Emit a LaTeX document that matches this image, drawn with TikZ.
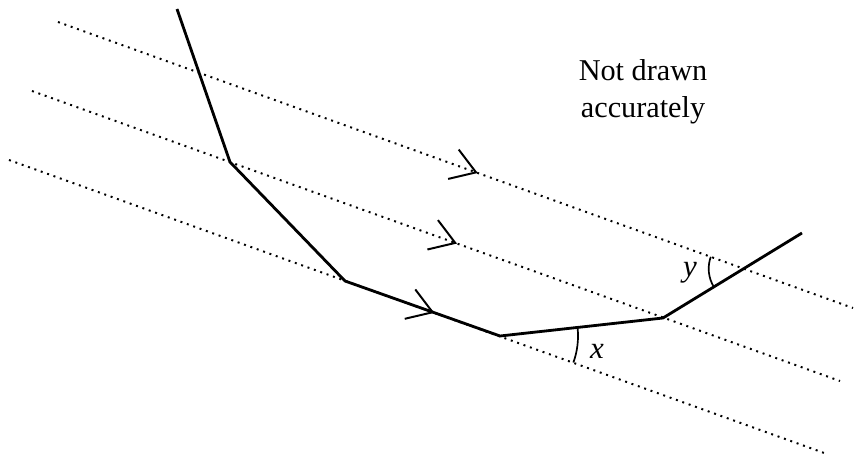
\documentclass[tikz,border=0pt]{standalone}
\usepackage{fontspec}
\setmainfont{Liberation Serif}
\usetikzlibrary{arrows.meta, decorations.markings, angles}

\begin{document}
\begin{tikzpicture}[x=0.025cm, y=-0.025cm]
                    \tikzstyle{parallel} = [line width=1.4pt, dash pattern=on 1.4pt off 3.4pt]
                    \tikzstyle{route} = [line width=2pt, line join=miter]
                    \tikzstyle{chevron} = [postaction={decorate}, decoration={markings, mark=at position #1 with {\arrow{Straight Barb[length=6mm, width=7.8mm, line width=1.4pt]}}}]
                    \tikzstyle{mark} = [draw, line width=1.2pt, angle radius=#1]
                    \tikzstyle{lbl} = [font=\fontsize{22}{26}\selectfont\itshape, inner sep=0pt]

                    \useasboundingbox (0,0) rectangle (857,459);

                    % the three parallel lines
                    \coordinate (l1a) at (58,22);  \coordinate (l1b) at (853,308);
                    \coordinate (l2a) at (32,91);  \coordinate (l2b) at (840,381);
                    \coordinate (l3a) at (9,160);  \coordinate (l3b) at (827,454);

                    % the bent line
                    \coordinate (p0) at (177,9);
                    \coordinate (p1) at (230,162);
                    \coordinate (p2) at (345,281);
                    \coordinate (p3) at (500,336);
                    \coordinate (p4) at (663,318);
                    \coordinate (p5) at (802,233);
                    \coordinate (cut) at (intersection of l1a--l1b and p4--p5);

                    \draw [parallel, chevron=0.528] (l1a) -- (l1b);
                    \draw [parallel, chevron=0.526] (l2a) -- (l2b);
                    \draw [parallel, chevron=0.52] (l3a) -- (l3b);

                    \draw [route] (p0) -- (p1) -- (p2) -- (p3) -- (p4) -- (p5);

                    \pic [mark=1.95cm] {angle = l3b--p3--p4};
                    \pic [mark=0.875cm] {angle = l1a--cut--p4};

                    \node [lbl] (x) at (597,351) {x};
                    \node [lbl] (y) at (690,273) {y};

                    \node [font=\fontsize{21.5}{26}\selectfont, align=center] (note) at (643,92) {Not drawn\\accurately};
                \end{tikzpicture}
\end{document}
